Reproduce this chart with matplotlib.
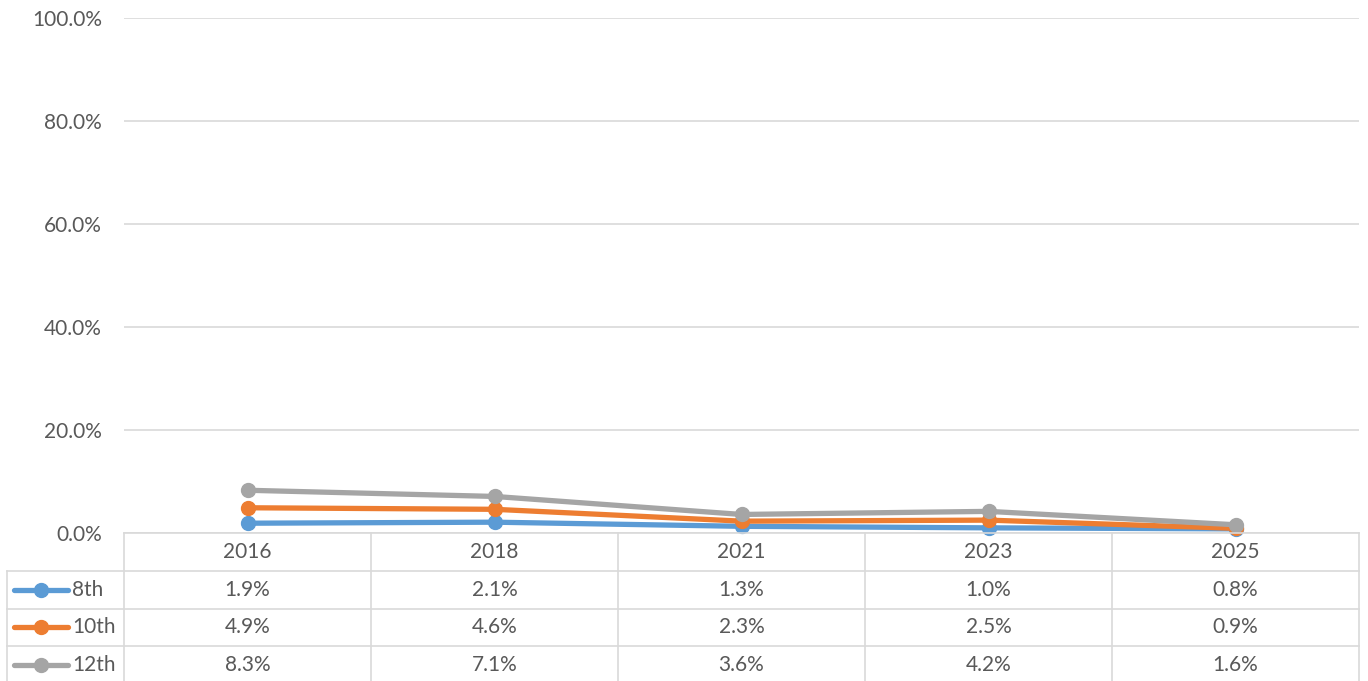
import matplotlib.pyplot as plt
import numpy as np

plt.rcParams['font.family'] = ['Lato', 'DejaVu Sans']

# データ
years = ['2016', '2018', '2021', '2023', '2025']
grades = ['8th', '10th', '12th']
grade_8 = [1.9, 2.1, 1.3, 1.0, 0.8]
grade_10 = [4.9, 4.6, 2.3, 2.5, 0.9]
grade_12 = [8.3, 7.1, 3.6, 4.2, 1.6]
y_ticks = [0, 20, 40, 60, 80, 100]

series = [grade_8, grade_10, grade_12]
colors = ['#5B9BD5', '#ED7D31', '#A5A5A5']
text_c = '#595959'
grid_c = '#D9D9D9'
fs = 15

W, H = 1368, 681
fig = plt.figure(figsize=(W / 100, H / 100), dpi=100)

# 軸の位置 (ピクセル)
px_l, px_r, px_top, px_zero = 124, 1359, 18, 533
ax = fig.add_axes([px_l / W, (H - px_zero) / H, (px_r - px_l) / W, (px_zero - px_top) / H])
x = np.arange(len(years))
ax.set_xlim(-0.5, len(years) - 0.5)
ax.set_ylim(0, 100)
for s in ax.spines.values():
    s.set_visible(False)
ax.set_yticks(y_ticks)
ax.set_yticklabels([f'{v:.1f}%' for v in y_ticks], fontsize=fs, color=text_c)
ax.tick_params(axis='y', length=0, pad=16)
ax.set_xticks([])
ax.grid(axis='y', color=grid_c, linewidth=1.2)
ax.set_axisbelow(True)

for vals, c in zip(series, colors):
    ax.plot(x, vals, color=c, linewidth=3.8, marker='o', markersize=10, solid_capstyle='round', clip_on=False)

# データテーブル
unit = (px_r - px_l) / len(years)
tx0 = -0.5 - (px_l - 7) / unit
row_h = 37.75
tab_bottom = px_zero + 4 * row_h
tab = fig.add_axes([7 / W, (H - tab_bottom) / H, (px_r - 7) / W, 4 * row_h / H])
tab.set_xlim(tx0, len(years) - 0.5)
tab.set_ylim(4, 0)
tab.axis('off')

lw = 1.2
tab.plot([-0.5, len(years) - 0.5], [0, 0], color=grid_c, lw=lw, clip_on=False)
for r in range(1, 4):
    tab.plot([tx0, len(years) - 0.5], [r, r], color=grid_c, lw=lw, clip_on=False)
tab.plot([tx0, tx0], [1, 4], color=grid_c, lw=lw, clip_on=False)
for i in range(len(years) + 1):
    tab.plot([i - 0.5, i - 0.5], [0, 4], color=grid_c, lw=lw, clip_on=False)

for i, yr in enumerate(years):
    tab.text(i, 0.5, yr, ha='center', va='center', fontsize=fs, color=text_c)
for r, (g, vals, c) in enumerate(zip(grades, series, colors)):
    yy = r + 1.5
    for i, v in enumerate(vals):
        tab.text(i, yy, f'{v:.1f}%', ha='center', va='center', fontsize=fs, color=text_c)
    k0 = tx0 + 7 / unit
    k1 = tx0 + 61 / unit
    tab.plot([k0, k1], [yy, yy], color=c, lw=3.8, solid_capstyle='round', clip_on=False)
    tab.plot([(k0 + k1) / 2], [yy], color=c, marker='o', markersize=10, clip_on=False)
    tab.text(tx0 + 65 / unit, yy, g, ha='left', va='center', fontsize=fs, color=text_c)

fig.savefig('out.png', dpi=100, facecolor='white')
